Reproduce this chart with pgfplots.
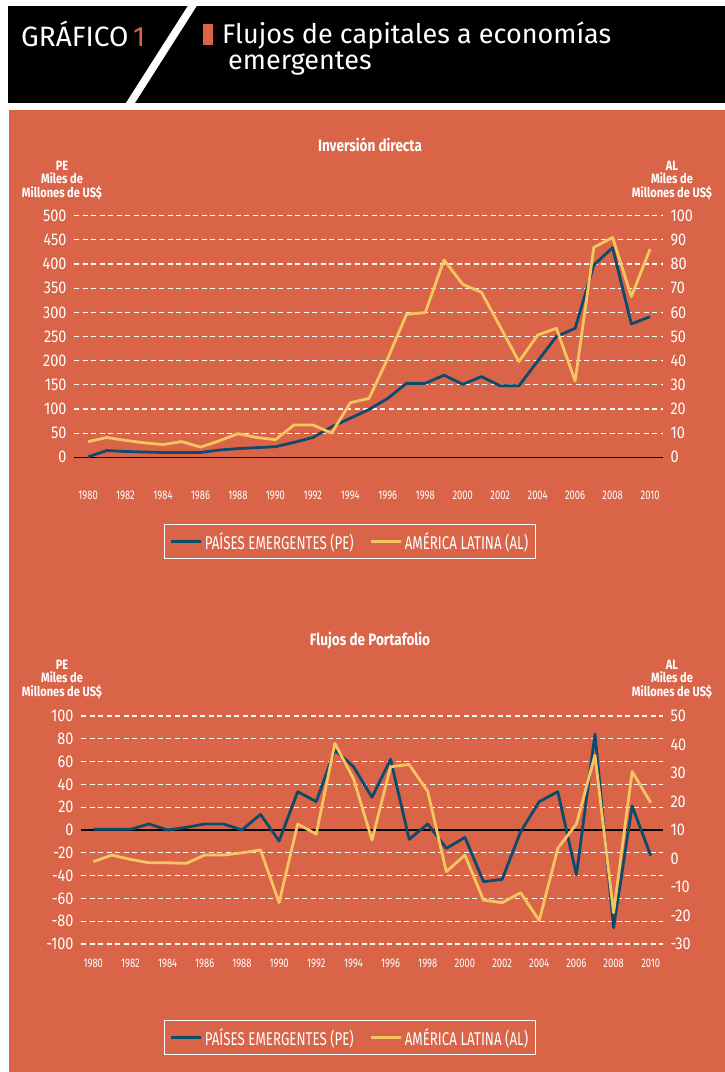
\documentclass[border=0pt]{standalone}
\usepackage{fontspec}
\setmainfont{Fira Sans}
\newfontfamily\tickfont[FakeStretch=0.85]{Fira Sans}
\newfontfamily\yearfont[FakeStretch=0.75]{Fira Sans}
\newfontfamily\legfont[FakeStretch=0.72]{Fira Sans}
\newfontfamily\headfont[FakeStretch=0.82]{Fira Sans}
\usepackage{pgfplots}
\usepackage{pgfplotstable}
\pgfplotsset{compat=1.18}
\definecolor{bg}{RGB}{217,100,72}
\definecolor{peblue}{RGB}{12,75,108}
\definecolor{alyel}{RGB}{246,196,96}

\pgfplotstableread{
year pe al
1980 1 6.5
1981 14 8.2
1982 12 7.0
1983 11 6.0
1984 10 5.3
1985 10 6.5
1986 10 4.2
1987 15 6.8
1988 18 9.8
1989 20 8.2
1990 22 7.3
1991 31 13.4
1992 41 13.4
1993 63 10
1994 81 22.6
1995 99 24.4
1996 122 41
1997 153 59.2
1998 153 59.9
1999 170 81.7
2000 151 71.6
2001 167 68.3
2002 148 54
2003 148 39.6
2004 199 50.6
2005 250 53.4
2006 267 31.6
2007 398 86.9
2008 434 91
2009 276 66.5
2010 291 86.2
}\directa

\pgfplotstableread{
year pe al
1980 0.6 -1.1
1981 0.6 1.2
1982 0.6 -0.3
1983 5.3 -1.5
1984 0 -1.5
1985 2.3 -1.7
1986 5.3 1.2
1987 5.3 1.2
1988 0 2.0
1989 13.7 3.0
1990 -9.6 -15.5
1991 33.6 12.1
1992 24.9 8.6
1993 70.2 40.4
1994 55.6 28.1
1995 28.7 6.5
1996 62 32.2
1997 -8.2 33
1998 5.3 23.5
1999 -16.1 -4.6
2000 -6.4 1.2
2001 -45.3 -14.6
2002 -43.3 -15.5
2003 -1.5 -12
2004 24.9 -21.8
2005 33.6 3.6
2006 -39.5 12.1
2007 84.2 36.3
2008 -85.7 -19
2009 21.1 30.5
2010 -22.5 19.6
}\portafolio

\pgfplotsset{
  base/.style={
    scale only axis, anchor=south west,
    axis line style={draw=none},
    major tick length=0pt,
    /pgf/number format/assume math mode=true,
    /pgf/number format/1000 sep={},
    yticklabel style={font=\tickfont\fontsize{17}{17}\selectfont, text=white},
    xticklabel style={font=\yearfont\fontsize{12.5}{12.5}\selectfont, text=white},
    clip=false,
  },
  leftax/.style={base,
    ymajorgrids,
    grid style={white, line width=1.2pt, dash pattern=on 5pt off 3.5pt},
    xtick={1980,1982,...,2010},
    yticklabel style={anchor=east, xshift=-4pt},
  },
  rightax/.style={base,
    axis x line=none,
    yticklabel pos=right,
    yticklabel style={anchor=west, xshift=4pt},
    legend columns=2,
    legend cell align=left,
    legend image code/.code={\draw[##1, line width=3pt] (0pt,0pt) -- (30pt,0pt);},
    legend style={draw=white, line width=1.1pt, fill=none, text=white,
      font=\legfont\fontsize{18.5}{18.5}\selectfont,
      inner xsep=5pt, inner ysep=6pt,
      /tikz/every even column/.append style={column sep=14pt}},
  },
  peline/.style={peblue, line width=2.8pt, line join=round},
  alline/.style={alyel, line width=2.8pt, line join=round},
}

\tikzset{unitlab/.style={text=white, align=center, inner sep=0pt,
  font=\headfont\bfseries\fontsize{13.5}{13.5}\selectfont}}

\begin{document}
\begin{tikzpicture}
% page and panels
\fill[white] (0pt,0pt) rectangle (725pt,-1072pt);
\fill[black] (8pt,-6pt) rectangle (725pt,-103pt);
\fill[white] (189pt,-4pt) -- (198pt,-4pt) -- (133pt,-106pt) -- (124pt,-106pt) -- cycle;
\fill[bg] (9pt,-110pt) rectangle (725pt,-1072pt);
% header text
\node[anchor=base west, inner sep=0pt, text=white, font=\fontsize{28}{28}\selectfont] at (21pt,-46pt) {GRÁFICO\,\textcolor{bg}{1}};
\fill[bg] (203pt,-24pt) rectangle (213pt,-45pt);
\node[anchor=base west, inner sep=0pt, text=white, font=\fontsize{27}{27}\selectfont] at (222pt,-43pt) {Flujos de capitales a economías};
\node[anchor=base west, inner sep=0pt, text=white, font=\fontsize{27}{27}\selectfont] at (228pt,-69pt) {emergentes};
% titles
\node[text=white, font=\headfont\bfseries\fontsize{16.5}{16.5}\selectfont] at (370pt,-145pt) {Inversión directa};
\node[text=white, font=\headfont\bfseries\fontsize{16.5}{16.5}\selectfont] at (370pt,-641pt) {Flujos de Portafolio};
% unit labels
\node[unitlab] at (62pt,-180pt) {PE\\Miles de\\Millones de US\$};
\node[unitlab] at (672pt,-180pt) {AL\\Miles de\\Millones de US\$};
\node[unitlab] at (62pt,-679pt) {PE\\Miles de\\Millones de US\$};
\node[unitlab] at (672pt,-679pt) {AL\\Miles de\\Millones de US\$};

% ---------- Inversion directa ----------
\begin{axis}[leftax, at={(74pt,-457.3pt)}, width=589pt, height=241.6pt,
  xmin=1979.25, xmax=2010.69, ymin=0, ymax=500, ytick={0,50,...,500},
  xticklabel style={yshift=-30pt}]
  \draw[black, line width=1.2pt] (axis cs:1979.25,0) -- (axis cs:2010.69,0);
  \addplot[peline] table[x=year, y=pe] {\directa};
\end{axis}
\begin{axis}[rightax, at={(74pt,-457.3pt)}, width=589pt, height=241.6pt,
  xmin=1979.25, xmax=2010.69, ymin=0, ymax=100, ytick={0,10,...,100},
  legend style={at={(0.4686,-0.3485)}, anchor=center}]
  \addlegendimage{peline}
  \addlegendentry{PAÍSES EMERGENTES (PE)}
  \addplot[alline] table[x=year, y=al] {\directa};
  \addlegendentry{AMÉRICA LATINA (AL)}
\end{axis}

% ---------- Flujos de portafolio ----------
\begin{axis}[leftax, at={(81pt,-944pt)}, width=582pt, height=228pt,
  xmin=1979.34, xmax=2010.66, ymin=-100, ymax=100, ytick={-100,-80,...,100},
  xticklabel style={yshift=-11pt}]
  \draw[black, line width=1.2pt] (axis cs:1979.34,0) -- (axis cs:2010.66,0);
  \addplot[peline] table[x=year, y=pe] {\portafolio};
\end{axis}
\begin{axis}[rightax, at={(81pt,-944pt)}, width=582pt, height=228pt,
  xmin=1979.34, xmax=2010.66, ymin=-30, ymax=50, ytick={-30,-20,...,50},
  legend style={at={(0.4622,-0.41)}, anchor=center}]
  \addlegendimage{peline}
  \addlegendentry{PAÍSES EMERGENTES (PE)}
  \addplot[alline] table[x=year, y=al] {\portafolio};
  \addlegendentry{AMÉRICA LATINA (AL)}
\end{axis}
\end{tikzpicture}
\end{document}
